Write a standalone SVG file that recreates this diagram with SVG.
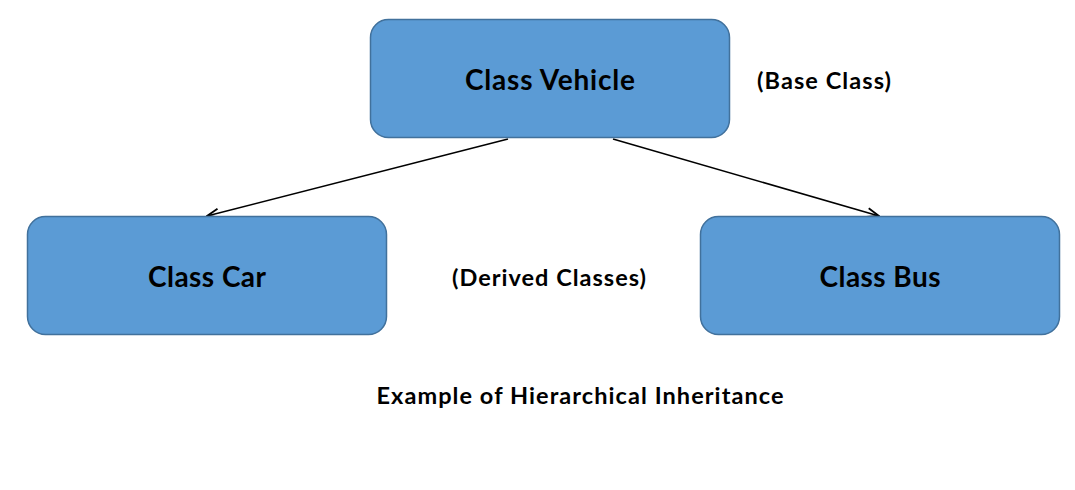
<svg xmlns="http://www.w3.org/2000/svg" width="1075" height="490" viewBox="0 0 1075 490">
<style>
.box{fill:#5b9bd5;stroke:#41719c;stroke-width:1.5}
.t{font-family:Lato,"Open Sans",sans-serif;font-weight:bold;fill:#000;text-anchor:middle;dominant-baseline:central}
.big{font-size:28px}
.sm{font-size:23.5px}
.conn{stroke:#000;stroke-width:1.6;fill:none;marker-end:url(#arr)}
</style>
<defs>
<marker id="arr" viewBox="0 0 14 12" refX="13" refY="6" markerWidth="14" markerHeight="12" markerUnits="userSpaceOnUse" orient="auto">
<path d="M1,1.5 L13,6 L1,10.5" fill="none" stroke="#000" stroke-width="1.8"/>
</marker>
</defs>
<rect width="1075" height="490" fill="#fff"/>
<g id="connectors">
<line class="conn" x1="508" y1="139" x2="207" y2="216"/>
<line class="conn" x1="613" y1="139" x2="879" y2="216"/>
</g>
<g id="vehicle">
<rect class="box" x="370.5" y="19.5" width="359" height="118" rx="18"/>
<text class="t big" x="550" y="79" textLength="170">Class Vehicle</text>
</g>
<g id="car">
<rect class="box" x="27.5" y="216.5" width="359" height="118" rx="18"/>
<text class="t big" x="207" y="276" textLength="118">Class Car</text>
</g>
<g id="bus">
<rect class="box" x="700.5" y="216.5" width="359" height="118" rx="18"/>
<text class="t big" x="880" y="276" textLength="121">Class Bus</text>
</g>
<text class="t sm" x="824" y="80" textLength="134">(Base Class)</text>
<text class="t sm" x="549" y="277" textLength="194">(Derived Classes)</text>
<text class="t sm" x="580" y="395" textLength="407">Example of Hierarchical Inheritance</text>
</svg>
